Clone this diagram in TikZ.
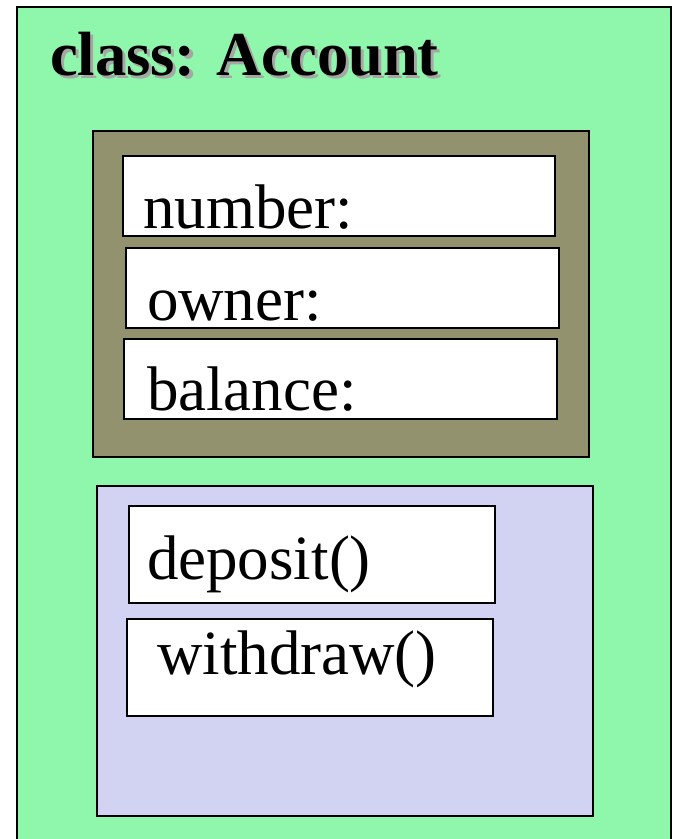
\documentclass[tikz,border=0pt]{standalone}
\usepackage{fontspec}
\setmainfont{Liberation Serif}
\definecolor{bggreen}{RGB}{143,247,171}
\definecolor{attrolive}{RGB}{146,146,110}
\definecolor{methlav}{RGB}{210,210,242}
\begin{document}
\begin{tikzpicture}[x=1pt,y=-1pt,
  box/.style={draw=black, line width=1.6pt, anchor=north west, inner sep=0pt, outer sep=0pt},
  field/.style={box, fill=white},
  lbl/.style={anchor=base west, inner sep=0pt, outer sep=0pt, font=\fontsize{63}{70}\selectfont},
  ttl/.style={anchor=base west, inner sep=0pt, outer sep=0pt, font=\bfseries\fontsize{62.5}{70}\selectfont}]
\useasboundingbox (0,0) rectangle (674,839);
\clip (0,0) rectangle (674,839);
% class box
\node[box, fill=bggreen, minimum width=654pt, minimum height=860pt] (class) at (17,7) {};
\node[ttl, text=black!35] (titleshadow) at (53,78) {class: Account};
\node[ttl] (title) at (50,75) {class: Account};
% attributes
\node[box, fill=attrolive, minimum width=496pt, minimum height=326pt] (attrs) at (93,131) {};
\node[field, minimum width=432pt, minimum height=80pt] (number) at (123,156) {};
\node[field, minimum width=433pt, minimum height=80pt] (owner) at (126,248) {};
\node[field, minimum width=433pt, minimum height=80pt] (balance) at (124,339) {};
\node[lbl] (numbertxt) at (143,228) {number:};
\node[lbl] (ownertxt) at (147,320) {owner:};
\node[lbl] (balancetxt) at (147,410) {balance:};
% methods
\node[box, fill=methlav, minimum width=496pt, minimum height=330pt] (methods) at (97,486) {};
\node[field, minimum width=366pt, minimum height=97pt] (deposit) at (129,506) {};
\node[field, minimum width=366pt, minimum height=97pt] (withdraw) at (127,619) {};
\node[lbl] (deposittxt) at (147,579) {deposit()};
\node[lbl] (withdrawtxt) at (157,674) {withdraw()};
\end{tikzpicture}
\end{document}
